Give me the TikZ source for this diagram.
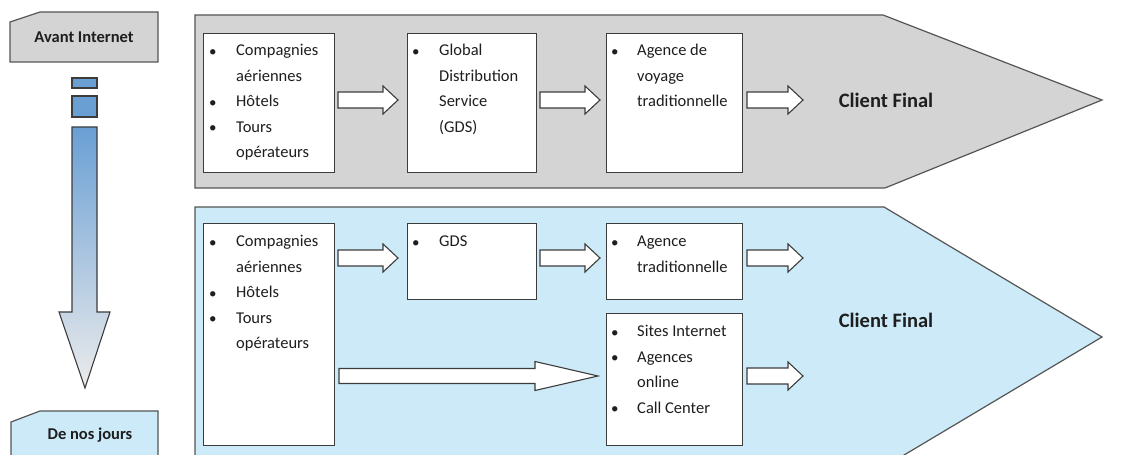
\documentclass[tikz,border=0pt]{standalone}
\usepackage{fontspec}
\setmainfont{Carlito}
\definecolor{grayband}{HTML}{D4D4D4}
\definecolor{blueband}{HTML}{CDEAF9}
\definecolor{edge}{HTML}{555555}
\definecolor{boxedge}{HTML}{3C3C3C}
\definecolor{smallblue}{HTML}{6A9FD4}
\definecolor{txt}{HTML}{1E1E1E}
\newcommand{\bfnt}{\fontsize{16.5bp}{25.5bp}\selectfont}
\newcommand{\blt}{{\fontsize{15bp}{15bp}\selectfont\raisebox{-0.3bp}{•}}}
% block arrow: x1, x2, y, head start x, shaft half, head half
\newcommand{\blockarrow}[6]{%
  \draw[barrow] (#1,#3-#5) -- (#4,#3-#5) -- (#4,#3-#6) -- (#2,#3) -- (#4,#3+#6) -- (#4,#3+#5) -- (#1,#3+#5) -- cycle;}
\begin{document}
\begin{tikzpicture}[x=1bp,y=-1bp,
  band/.style={draw=edge, line width=1.2bp},
  box/.style={draw=boxedge, fill=white, line width=1.2bp, anchor=north west, inner sep=0pt},
  barrow/.style={draw=boxedge, fill=white, line width=1.1bp, line join=miter},
  items/.style={anchor=base west, inner sep=0pt, text=txt, font=\bfnt},
  client/.style={inner sep=0pt, text=txt, font=\fontsize{20.5bp}{24bp}\selectfont\bfseries},
  label/.style={inner sep=0pt, text=txt, font=\fontsize{16.5bp}{20bp}\selectfont\bfseries}]
\useasboundingbox (0,0) rectangle (1128,455);
\clip (0,0) rectangle (1128,455);
\fill[white] (0,0) rectangle (1128,455);

% ---------- left timeline ----------
\draw[band, fill=grayband] (10,22) -- (40,12) -- (158,12) -- (158,62) -- (10,62) -- cycle;
\node[label] (avant) at (84,37) {Avant Internet};
\draw[band, fill=blueband] (11,422) -- (40,411) -- (158,411) -- (158,470) -- (11,470) -- cycle;
\node[label] (nos) at (90,435) {De nos jours};

\draw[draw=boxedge, fill=smallblue, line width=1.1bp] (72,78) rectangle (97,88);
\draw[draw=boxedge, fill=smallblue, line width=1.1bp] (72,96) rectangle (97,117);
\shade[top color=smallblue, middle color=blue!8!cyan!25!white, bottom color=gray!15]
  (72,127) -- (97,127) -- (97,312) -- (110,312) -- (85,388) -- (59,312) -- (72,312) -- cycle;
\draw[draw=boxedge, line width=1.1bp]
  (72,127) -- (97,127) -- (97,312) -- (110,312) -- (85,388) -- (59,312) -- (72,312) -- cycle;

% ---------- top band (before Internet) ----------
\draw[band, fill=grayband] (195,15) -- (883,15) -- (1102,100) -- (885,188) -- (195,188) -- cycle;
\node[box, minimum width=131bp, minimum height=139bp] (a1) at (203,33) {};
\node[box, minimum width=129bp, minimum height=139bp] (a2) at (407,33) {};
\node[box, minimum width=136bp, minimum height=139bp] (a3) at (606,33) {};
\node[items] (ta1) at (209,56) {\begin{tabular}[t]{@{}p{27bp}@{}l@{}}
  \blt & Compagnies\\ & aériennes\\ \blt & Hôtels\\ \blt & Tours\\ & opérateurs\end{tabular}};
\node[items] (ta2) at (412,56) {\begin{tabular}[t]{@{}p{27bp}@{}l@{}}
  \blt & Global\\ & Distribution\\ & Service\\ & (GDS)\end{tabular}};
\node[items] (ta3) at (611,56) {\begin{tabular}[t]{@{}p{26bp}@{}l@{}}
  \blt & Agence de\\ & voyage\\ & traditionnelle\end{tabular}};
\blockarrow{338}{398}{100}{383}{8}{14}
\blockarrow{540}{600}{100}{585}{8}{14}
\blockarrow{747}{803}{100}{788}{8}{14}
\node[client] (cf1) at (886,100) {Client Final};

% ---------- bottom band (nowadays) ----------
\draw[band, fill=blueband] (195,207) -- (884,207) -- (1102,337) -- (884,467) -- (195,467) -- cycle;
\node[box, minimum width=131bp, minimum height=222bp] (b1) at (203,223) {};
\node[box, minimum width=129bp, minimum height=76bp] (b2) at (407,223) {};
\node[box, minimum width=136bp, minimum height=76bp] (b3) at (606,223) {};
\node[box, minimum width=136bp, minimum height=132bp] (b4) at (606,313) {};
\node[items] (tb1) at (209,247) {\begin{tabular}[t]{@{}p{27bp}@{}l@{}}
  \blt & Compagnies\\ & aériennes\\ \blt & Hôtels\\ \blt & Tours\\ & opérateurs\end{tabular}};
\node[items] (tb2) at (412,247) {\begin{tabular}[t]{@{}p{27bp}@{}l@{}}
  \blt & GDS\end{tabular}};
\node[items] (tb3) at (611,247) {\begin{tabular}[t]{@{}p{26bp}@{}l@{}}
  \blt & Agence\\ & traditionnelle\end{tabular}};
\node[items] (tb4) at (611,337) {\begin{tabular}[t]{@{}p{26bp}@{}l@{}}
  \blt & Sites Internet\\ \blt & Agences\\ & online\\ \blt & Call Center\end{tabular}};
\blockarrow{338}{398}{258}{383}{8}{14}
\blockarrow{540}{600}{258}{585}{8}{14}
\blockarrow{747}{803}{258}{788}{8}{14}
\blockarrow{339}{598}{376}{535}{7.5}{14.5}
\blockarrow{747}{803}{376}{788}{8}{14}
\node[client] (cf2) at (886,320) {Client Final};
\end{tikzpicture}
\end{document}
